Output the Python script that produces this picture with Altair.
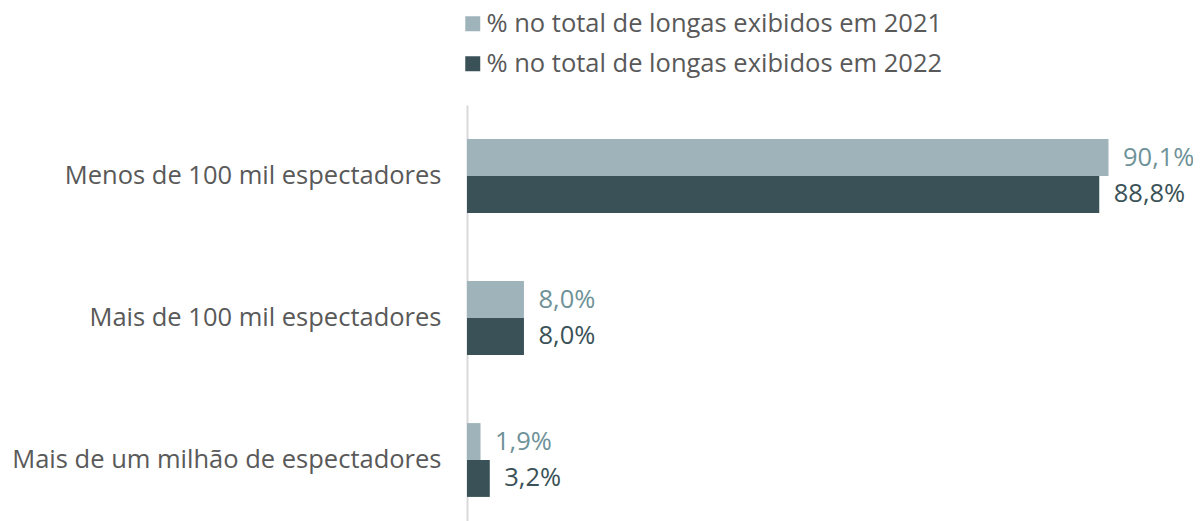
import altair as alt
import pandas as pd

categories = ["Menos de 100 mil espectadores", "Mais de 100 mil espectadores", "Mais de um milhão de espectadores"]
series = ["% no total de longas exibidos em 2021", "% no total de longas exibidos em 2022"]
values_2021 = [90.1, 8.0, 1.9]
values_2022 = [88.8, 8.0, 3.2]

rows = []
for c, v1, v2 in zip(categories, values_2021, values_2022):
    for s, v in ((series[0], v1), (series[1], v2)):
        rows.append({"cat": c, "serie": s, "val": v,
                     "label": f"{v:.1f}".replace(".", ",") + "%"})
df = pd.DataFrame(rows)

FONT = "Open Sans"
FS = 25.5
bar_colors = ["#9FB4BA", "#3A5257"]
label_colors = ["#6E9298", "#3A5257"]

xscale = alt.Scale(domain=[0, 100], nice=False)

base = alt.Chart(df).encode(
    y=alt.Y("cat:N", sort=categories, title=None,
            scale=alt.Scale(paddingInner=0.48, paddingOuter=0.24),
            axis=alt.Axis(labelFontSize=FS, labelColor="#595959", labelFont=FONT,
                          ticks=False, labelPadding=26, domainColor="#D9D9D9",
                          domainWidth=2, labelLimit=600, grid=False)),
    yOffset=alt.YOffset("serie:N", sort=series, scale=alt.Scale(paddingInner=0, paddingOuter=0)),
)

bars = base.mark_bar().encode(
    x=alt.X("val:Q", scale=xscale, axis=None),
    color=alt.Color("serie:N", sort=series,
                    scale=alt.Scale(domain=series, range=bar_colors),
                    legend=alt.Legend(title=None, orient="none", legendX=-7, legendY=-94,
                                      symbolType="square", symbolSize=225, symbolStrokeWidth=0,
                                      labelFontSize=FS, labelColor="#595959", labelFont=FONT,
                                      rowPadding=13, labelOffset=1, labelLimit=700)),
)

texts = base.mark_text(align="left", baseline="middle", dx=14.5, fontSize=FS, font=FONT).encode(
    x=alt.X("val:Q", scale=xscale, axis=None),
    text="label:N",
    color=alt.Color("serie:N", sort=series,
                    scale=alt.Scale(domain=series, range=label_colors), legend=None),
)

chart = alt.layer(bars, texts).resolve_scale(color="independent").properties(
    width=712, height=426,
    background="white",
    autosize=alt.AutoSizeParams(type="none"),
    padding={"left": 459, "top": 97, "right": 14, "bottom": 0},
).configure_view(strokeWidth=0, stroke="transparent")

chart.save("out.html", embed_options={"renderer": "svg", "actions": False})
